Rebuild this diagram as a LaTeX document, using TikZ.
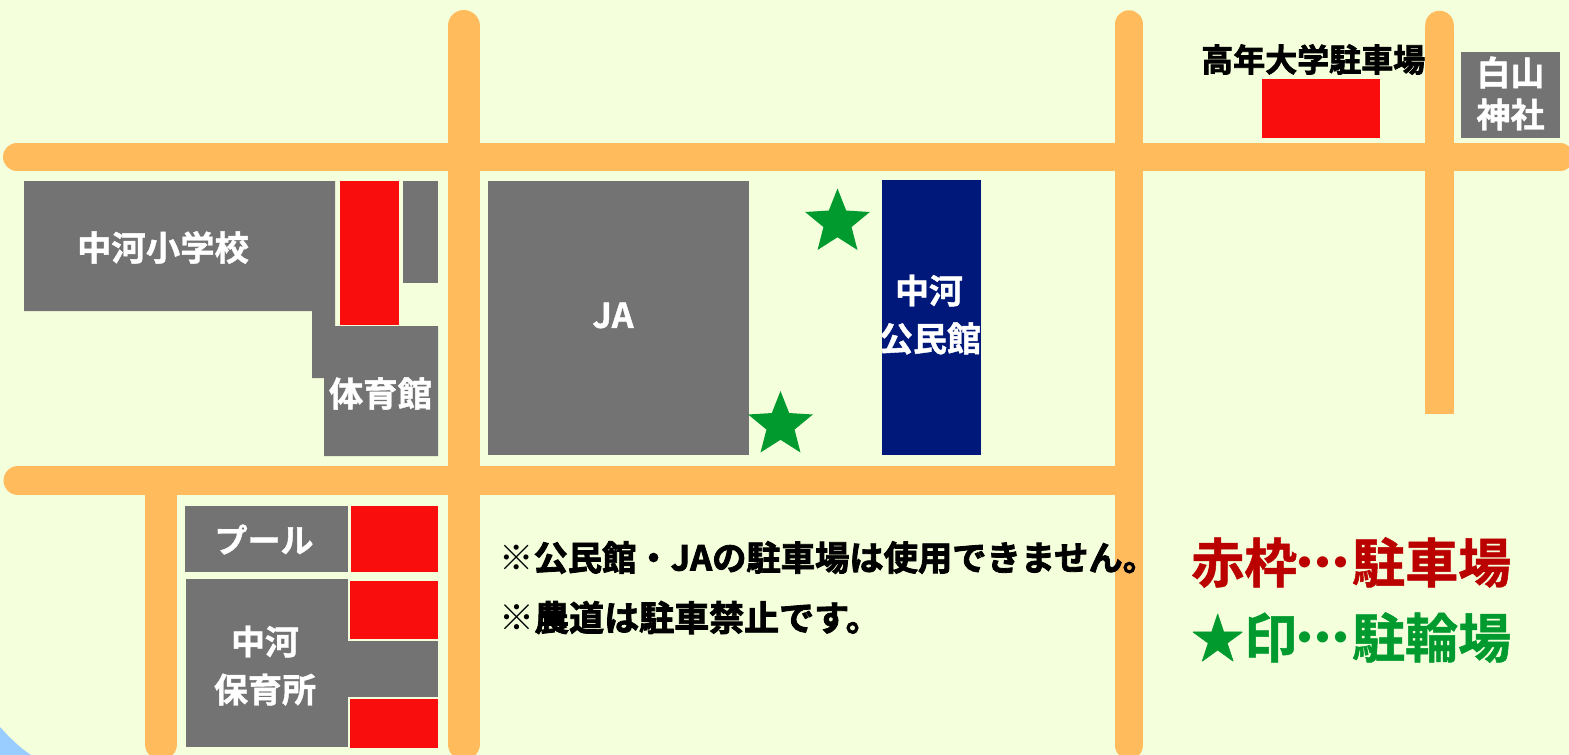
\documentclass[tikz,border=0pt]{standalone}
\usepackage{fontspec}
\setmainfont{Noto Sans CJK JP Bold}
\newfontfamily\heavyfont{Noto Sans CJK JP Bold}[FakeBold=2.4]
\newfontfamily\midfont{Noto Sans CJK JP Bold}[FakeBold=1.2]
\newfontfamily\legfont{Noto Sans CJK JP Bold}[FakeBold=1]
\newfontfamily\thinfont{Noto Sans CJK JP}
\usetikzlibrary{shapes.geometric}
\definecolor{bgc}{HTML}{F4FFDC}
\definecolor{roadc}{HTML}{FFBB5C}
\definecolor{greyc}{HTML}{737373}
\definecolor{redc}{HTML}{F90D0D}
\definecolor{navyc}{HTML}{00187A}
\definecolor{starc}{HTML}{009A2E}
\definecolor{darkredc}{HTML}{BB0000}
\definecolor{bluec}{HTML}{99CCFF}
\newcommand{\midots}{{\thinfont\kern-18.5pt・\kern-35pt・\kern-35pt・\kern-15.5pt}}
\tikzset{
  road/.style={draw=roadc,line cap=round,line width=#1},
  bldg/.style={fill=greyc},
  park/.style={fill=redc},
  lbl/.style={text=white,inner sep=0pt,align=center,font=\midfont\fontsize{#1}{#1}\selectfont},
  blk/.style={text=black,inner sep=0pt,anchor=west,font=\heavyfont\fontsize{#1}{#1}\selectfont},
  leg/.style={inner sep=0pt,anchor=west,text=#1,font=\legfont\fontsize{53pt}{53pt}\selectfont},
  starmark/.style={star,star points=5,star point ratio=2.3,fill=starc,inner sep=0pt,minimum size=68pt},
}
\begin{document}
\begin{tikzpicture}[x=1pt,y=-1pt]
\useasboundingbox (0,0) rectangle (1569,755);
\fill[bgc] (0,0) rectangle (1569,755);
\begin{scope}
\clip (0,0) rectangle (1569,755);
\fill[bluec] (0,727) .. controls (9,737) and (20,748) .. (31,755) -- (0,755) -- cycle;
\draw[road=28pt] (17,157) -- (1560,157);
\draw[road=29pt] (18,480.5) -- (1114,480.5);
\draw[road=32pt] (463.5,26) -- (463.5,744);
\draw[road=28.5pt] (1129,24.5) -- (1129,745);
\draw[road=32pt] (161,496) -- (161,744);
\draw[roadc,line width=28.5pt,line cap=butt] (1439.5,25) -- (1439.5,414);
\fill[roadc] (1439.5,25) circle (14.25pt);
\end{scope}
% school and gym
\fill[bldg] (24,181) -- (335,181) -- (335,326) -- (438,326) -- (438,456) -- (324,456) -- (324,378) -- (312,378) -- (312,311) -- (24,311) -- cycle;
\fill[park] (340,181) rectangle (399,325);
\fill[bldg] (403,181) rectangle (438,283);
% JA and hall
\fill[bldg] (488,181) rectangle (749,455);
\fill[navyc] (881.5,180) rectangle (980.5,455);
% pool and nursery
\fill[bldg] (185,506) rectangle (348,572);
\fill[park] (351,506) rectangle (438,572);
\fill[bldg] (186,579) rectangle (348,747);
\fill[bldg] (348,641) rectangle (438,697);
\fill[park] (350,581) rectangle (438,639);
\fill[park] (350,699) rectangle (438,748);
% top right
\fill[park] (1262,79) rectangle (1380,138);
\fill[bldg] (1461,52) rectangle (1560,138);
% stars
\node[starmark] (star1) at (837.5,222.5) {};
\node[starmark] (star2) at (780.5,425) {};
% labels
\node[lbl=34.4pt] (school) at (163,247.5) {中河小学校};
\node[lbl=34.4pt] (gym) at (380.5,393.5) {体育館};
\node[lbl=34pt] (ja) at (613,315.5) {JA};
\node[lbl=34pt] (hall1) at (929,290.5) {中河};
\node[lbl=34pt] (hall2) at (930,338.5) {公民館};
\node[lbl=33pt] (pool) at (264,539.5) {プール};
\node[lbl=34pt] (nur1) at (265,641.5) {中河};
\node[lbl=34pt] (nur2) at (265,689.5) {保育所};
\node[lbl=34pt] (shrine1) at (1510.5,72.5) {白山};
\node[lbl=34pt] (shrine2) at (1510.5,114.5) {神社};
\node[blk=32pt] (univ) at (1201,59.5) {高年大学駐車場};
\node[blk=34.3pt] (note1) at (499,557.5) {{\thinfont ※}公民館・JAの駐車場は使用できません。};
\node[blk=35pt] (note2) at (499,617.5) {{\thinfont ※}農道は駐車禁止です。};
\node[leg=darkredc] (leg1) at (1191,562.5) {赤枠\midots 駐車場};
\node[leg=starc] (leg2) at (1191,637.5) {★印\midots 駐輪場};
\end{tikzpicture}
\end{document}
